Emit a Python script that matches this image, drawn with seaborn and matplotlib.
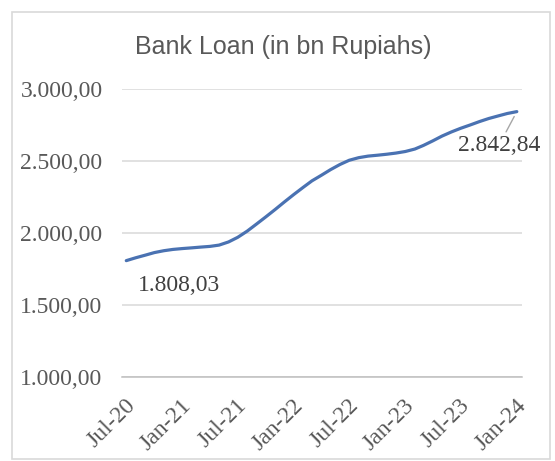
import pandas as pd
import matplotlib
matplotlib.use('Agg')
import matplotlib.pyplot as plt
from matplotlib.patches import Rectangle
from matplotlib.transforms import ScaledTranslation
import seaborn as sns

# monthly readings of bank loan (bn Rupiahs)
dates = ['2020-07-15', '2020-08-15', '2020-09-15', '2020-10-15', '2020-11-15', '2020-12-15',
         '2021-01-15', '2021-02-15', '2021-03-15', '2021-04-15', '2021-05-15', '2021-06-15',
         '2021-07-15', '2021-08-15', '2021-09-15', '2021-10-15', '2021-11-15', '2021-12-15',
         '2022-01-15', '2022-02-15', '2022-03-15', '2022-04-15', '2022-05-15', '2022-06-15',
         '2022-07-15', '2022-08-15', '2022-09-15', '2022-10-15', '2022-11-15', '2022-12-15',
         '2023-01-15', '2023-02-15', '2023-03-15', '2023-04-15', '2023-05-15', '2023-06-15',
         '2023-07-15', '2023-08-15', '2023-09-15', '2023-10-15', '2023-11-15', '2023-12-15',
         '2024-01-15']
loans = [1808.03, 1828, 1846, 1864, 1877, 1886,
         1892, 1897, 1902, 1907, 1916, 1938,
         1970, 2013, 2063, 2112, 2164, 2216,
         2268, 2318, 2362, 2401, 2440, 2476,
         2505, 2523, 2534, 2540, 2547, 2555,
         2566, 2583, 2608, 2640, 2673, 2702,
         2727, 2750, 2774, 2795, 2813, 2830,
         2842.84]
tick_dates = ['2020-07-01', '2021-01-01', '2021-07-01', '2022-01-01',
              '2022-07-01', '2023-01-01', '2023-07-01', '2024-01-01']
tick_labels = ['Jul-20', 'Jan-21', 'Jul-21', 'Jan-22', 'Jul-22', 'Jan-23', 'Jul-23', 'Jan-24']
yticks = [1000, 1500, 2000, 2500, 3000]
ytick_labels = ['1.000,00', '1.500,00', '2.000,00', '2.500,00', '3.000,00']

df = pd.DataFrame({'date': pd.to_datetime(dates), 'loan': loans})

sns.set_style('white')
plt.rcParams['font.family'] = ['Liberation Serif', 'DejaVu Serif']

txt = '#595959'
fig = plt.figure(figsize=(5.55, 4.61), dpi=100)
ax = fig.add_axes([122/555, 1-377/461, 400/555, 288/461])

sns.lineplot(data=df, x='date', y='loan', ax=ax, color='#4a72b2', linewidth=2.3)

ax.set_ylim(1000, 3000)
ax.set_xlim(pd.Timestamp('2020-07-01'), pd.Timestamp('2024-02-01'))
ax.set_yticks(yticks)
ax.set_yticklabels(ytick_labels)
ax.set_xticks(pd.to_datetime(tick_dates))
ax.set_xticklabels(tick_labels, rotation=45, ha='right', rotation_mode='anchor')
ax.set_xlabel('')
ax.set_ylabel('')

ax.grid(axis='y', color='#d9d9d9', linewidth=1.1)
ax.set_axisbelow(True)
for s in ['top', 'right', 'left']:
    ax.spines[s].set_visible(False)
ax.spines['bottom'].set_color('#bfbfbf')
ax.spines['bottom'].set_linewidth(1.1)
ax.tick_params(axis='y', length=0, pad=14, labelsize=17, labelcolor=txt)
ax.tick_params(axis='x', length=5, width=1.1, color='#bfbfbf', direction='out',
               pad=8, labelsize=17, labelcolor=txt)
shift = ScaledTranslation(3/100, 0, fig.dpi_scale_trans)
for lab in ax.get_xticklabels():
    lab.set_transform(lab.get_transform() + shift)

fig.text(283/555, 1-47/461, 'Bank Loan (in bn Rupiahs)', family=['Liberation Sans', 'DejaVu Sans'],
         fontsize=18, color=txt, ha='center', va='center')

ax.annotate('1.808,03', xy=(df['date'].iloc[0], loans[0]), xytext=(38, -18),
            textcoords='offset points', ha='center', va='center', fontsize=17, color='#404040')
ax.annotate('2.842,84', xy=(df['date'].iloc[-1], loans[-1]), xytext=(-13, -24.5),
            textcoords='offset points', ha='center', va='center', fontsize=17, color='#404040',
            arrowprops=dict(arrowstyle='-', color='#a6a6a6', lw=1, shrinkA=0, shrinkB=4))

fig.patches.append(Rectangle((12/555, 1-459/461), 538/555, 447/461, transform=fig.transFigure,
                             fill=False, edgecolor='#d9d9d9', linewidth=1.2))

fig.savefig('out.png', dpi=100)
